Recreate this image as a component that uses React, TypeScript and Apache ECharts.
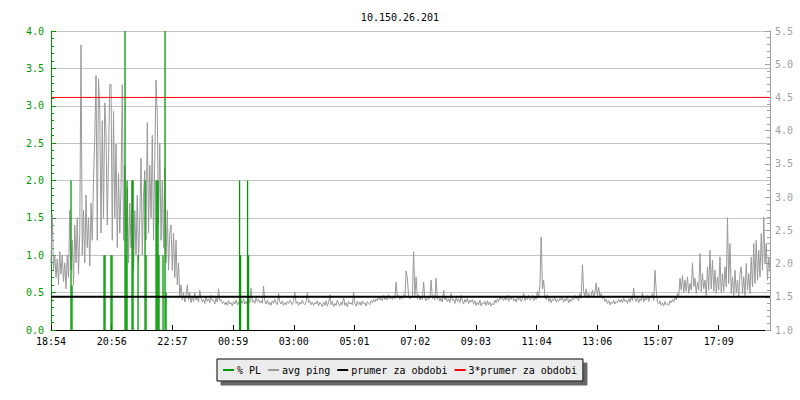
import React, { useEffect, useRef } from "react";
import * as echarts from "echarts";

const title = "10.150.26.201";
const xTickLabels = ["18:54", "20:56", "22:57", "00:59", "03:00", "05:01", "07:02", "09:03", "11:04", "13:06", "15:07", "17:09"];
const spanMinutes = 1437.5;
const tickStep = 121.36;
const pingStep = 2.5; // minutes between ping samples

// avg ping (right axis), one value every 2.5 minutes, 24 per hour from 18:54
const pingValues = [
  2.01, 2.74, 1.9, 2.13, 1.79, 2.07, 1.68, 2.18, 1.84, 2.13, 1.73, 2.01, 1.62, 2.13, 1.79, 2.8, 1.9, 2.35, 1.68, 2.58, 2.01, 2.69, 1.84, 2.46,
  5.29, 2.13, 2.8, 2.01, 3.03, 2.24, 2.69, 1.96, 2.91, 2.35, 3.25, 3.89, 4.83, 2.35, 4.78, 4.3, 2.46, 4.15, 2.69, 4.42, 3.99, 2.58, 3.59, 4.69,
  4.7, 2.35, 4.29, 2.69, 3.8, 2.24, 3.36, 2.46, 3.14, 4.69, 2.35, 3.48, 2.13, 3.14, 2.01, 2.91, 2.24, 3.25, 1.9, 2.8, 2.13, 3.03, 2.01, 2.69,
  3.59, 2.13, 3.03, 3.4, 2.35, 4.12, 2.46, 3.48, 2.69, 3.93, 2.35, 3.59, 4.76, 4.24, 2.58, 3.81, 2.35, 3.25, 2.24, 3.44, 2.01, 2.8, 1.9, 2.46,
  2.58, 1.9, 2.46, 1.79, 2.35, 1.68, 2.01, 1.51, 1.68, 1.45, 1.56, 1.42, 1.51, 1.68, 1.45, 1.56, 1.41, 1.51, 1.43, 1.56, 1.45, 1.5, 1.42, 1.6,
  1.48, 1.42, 1.46, 1.4, 1.5, 1.43, 1.47, 1.41, 1.52, 1.44, 1.45, 1.39, 1.48, 1.42, 1.62, 1.44, 1.46, 1.4, 1.43, 1.38, 1.42, 1.37, 1.44, 1.39,
  1.41, 1.36, 1.43, 1.39, 1.45, 1.38, 1.42, 1.37, 1.44, 1.4, 1.47, 1.39, 1.43, 1.38, 1.46, 1.41, 1.63, 1.42, 1.45, 1.4, 1.48, 1.43, 1.46, 1.41,
  1.44, 1.4, 1.66, 1.43, 1.39, 1.45, 1.38, 1.42, 1.37, 1.44, 1.4, 1.46, 1.41, 1.38, 1.55, 1.42, 1.39, 1.44, 1.37, 1.41, 1.38, 1.43, 1.4, 1.45,
  1.41, 1.38, 1.44, 1.57, 1.4, 1.43, 1.37, 1.42, 1.39, 1.45, 1.4, 1.38, 1.43, 1.56, 1.41, 1.44, 1.38, 1.42, 1.37, 1.41, 1.39, 1.44, 1.36, 1.42,
  1.39, 1.35, 1.42, 1.37, 1.44, 1.36, 1.41, 1.53, 1.38, 1.43, 1.35, 1.4, 1.37, 1.45, 1.39, 1.36, 1.42, 1.38, 1.5, 1.37, 1.41, 1.35, 1.43, 1.39,
  1.41, 1.38, 1.57, 1.4, 1.36, 1.43, 1.38, 1.42, 1.37, 1.44, 1.39, 1.41, 1.36, 1.43, 1.4, 1.38, 1.44, 1.41, 1.46, 1.42, 1.47, 1.44, 1.5, 1.45,
  1.48, 1.44, 1.52, 1.46, 1.5, 1.45, 1.53, 1.47, 1.49, 1.46, 1.51, 1.47, 1.72, 1.48, 1.52, 1.46, 1.5, 1.47, 1.53, 1.49, 1.89, 1.78, 1.5, 1.47,
  1.48, 1.5, 2.18, 1.52, 1.8, 1.47, 1.53, 1.45, 1.5, 1.46, 1.72, 1.48, 1.44, 1.51, 1.46, 1.49, 1.75, 1.47, 1.52, 1.45, 1.78, 1.46, 1.5, 1.43,
  1.48, 1.42, 1.6, 1.45, 1.5, 1.43, 1.47, 1.41, 1.55, 1.44, 1.46, 1.4, 1.49, 1.43, 1.47, 1.41, 1.52, 1.44, 1.39, 1.46, 1.42, 1.48, 1.4, 1.45,
  1.42, 1.46, 1.39, 1.44, 1.37, 1.42, 1.38, 1.45, 1.36, 1.41, 1.39, 1.43, 1.37, 1.44, 1.38, 1.42, 1.36, 1.4, 1.38, 1.45, 1.41, 1.47, 1.43, 1.49,
  1.46, 1.5, 1.44, 1.49, 1.45, 1.52, 1.43, 1.48, 1.46, 1.51, 1.44, 1.47, 1.42, 1.49, 1.45, 1.5, 1.43, 1.47, 1.55, 1.44, 1.49, 1.46, 1.52, 1.45,
  1.47, 1.52, 1.44, 1.5, 1.46, 1.58, 1.48, 1.68, 2.4, 1.62, 1.75, 1.5, 1.46, 1.53, 1.43, 1.48, 1.41, 1.47, 1.44, 1.5, 1.42, 1.46, 1.43, 1.48,
  1.45, 1.49, 1.42, 1.47, 1.44, 1.5, 1.41, 1.46, 1.43, 1.48, 1.45, 1.52, 1.47, 1.5, 1.44, 1.55, 1.48, 1.98, 1.58, 1.5, 1.62, 1.48, 1.55, 1.5,
  1.52, 1.6, 1.5, 1.56, 1.71, 1.52, 1.64, 1.49, 1.55, 1.47, 1.5, 1.43, 1.46, 1.4, 1.44, 1.38, 1.42, 1.4, 1.45, 1.39, 1.43, 1.41, 1.46, 1.42,
  1.46, 1.41, 1.48, 1.43, 1.45, 1.4, 1.47, 1.42, 1.5, 1.44, 1.63, 1.46, 1.43, 1.49, 1.41, 1.47, 1.44, 1.56, 1.42, 1.48, 1.45, 1.52, 1.43, 1.5,
  1.48, 1.55, 1.44, 1.9, 1.6, 1.42, 1.39, 1.44, 1.37, 1.41, 1.36, 1.43, 1.38, 1.4, 1.37, 1.44, 1.41, 1.46, 1.42, 1.5, 1.45, 1.55, 1.5, 1.78,
  1.6, 1.82, 1.56, 1.75, 1.58, 1.8, 1.55, 1.7, 1.6, 2.01, 1.65, 1.78, 1.55, 1.72, 1.6, 2.15, 1.58, 1.85, 1.62, 1.75, 1.52, 1.95, 1.6, 2.2,
  1.62, 2.05, 1.58, 1.9, 1.55, 1.8, 1.6, 2.1, 1.56, 1.85, 1.58, 1.95, 1.65, 2.69, 1.7, 2.3, 1.55, 1.8, 1.52, 1.9, 1.56, 1.75, 1.5, 1.85,
  1.95, 1.55, 1.8, 1.52, 2.0, 1.6, 1.85, 1.55, 2.1, 1.65, 2.3, 1.7, 2.35, 1.75, 2.2, 1.8, 2.45, 1.9, 2.7, 2.0, 2.3, 1.75, 2.1, 1.9,
];

// % packet loss events (left axis): minutes after 18:54 and value
const plTimes = [40, 42, 106, 108, 120, 122, 148, 150, 152, 162, 164, 174, 188, 190, 210, 212, 214, 216, 224, 228, 230, 377, 379, 393, 395];
const plValues = [2.0, 0.6, 1.0, 1.0, 1.0, 1.0, 4.0, 1.0, 2.0, 2.0, 2.0, 1.0, 2.0, 1.0, 2.0, 2.0, 2.0, 1.0, 1.0, 4.0, 0.5, 2.0, 1.0, 2.0, 1.0];

const avgPing = 1.5; // prumer za obdobi
const tripleAvgPing = 4.5; // 3*prumer za obdobi

const FONT = "DejaVu Sans Mono";

export default function App() {
  const ref = useRef<HTMLDivElement>(null);
  useEffect(() => {
    if (!ref.current) return;
    const chart = echarts.init(ref.current, undefined, { renderer: "svg" });
    const pingData = pingValues.map((v, i) => [i * pingStep, v]);
    const plData = plTimes.map((t, i) => [t, plValues[i]]);
    chart.setOption({
      animation: false,
      backgroundColor: "#ffffff",
      title: {
        text: title,
        left: "center",
        top: 7,
        textStyle: { fontSize: 10, fontWeight: "normal", fontFamily: FONT, color: "#000" },
      },
      legend: {
        left: 217,
        top: 359,
        padding: [6, 6],
        itemGap: 7,
        itemWidth: 11,
        itemHeight: 2,
        backgroundColor: "#ececec",
        borderColor: "#000",
        borderWidth: 1,
        shadowColor: "#666",
        shadowBlur: 0,
        shadowOffsetX: 4,
        shadowOffsetY: 4,
        textStyle: { fontSize: 10, fontFamily: FONT, color: "#000", padding: [0, 0, 0, -2] },
        data: [
          { name: "% PL", icon: "rect" },
          { name: "avg ping", icon: "rect" },
          { name: "prumer za obdobi", icon: "rect" },
          { name: "3*prumer za obdobi", icon: "rect" },
        ],
      },
      grid: { left: 51, right: 30, top: 31, bottom: 70 },
      xAxis: {
        type: "value",
        min: 0,
        max: spanMinutes,
        interval: tickStep,
        axisLine: { onZero: false, lineStyle: { color: "#000", width: 1 } },
        axisTick: { inside: true, length: 5, lineStyle: { color: "#000" } },
        splitLine: { show: false },
        axisLabel: {
          color: "#000",
          fontFamily: FONT,
          fontSize: 10,
          margin: 6,
          showMaxLabel: false,
          formatter: (v: number) => {
            const i = Math.round(v / tickStep);
            if (Math.abs(v - i * tickStep) > 1 || i >= xTickLabels.length) return "";
            return xTickLabels[i];
          },
        },
      },
      yAxis: [
        {
          type: "value",
          min: 0,
          max: 4,
          interval: 0.5,
          position: "left",
          axisLine: { show: true, lineStyle: { color: "#009900", width: 1 } },
          axisTick: { show: true, inside: true, length: 5, lineStyle: { color: "#009900" } },
          minorTick: { show: true, splitNumber: 5, length: 3, lineStyle: { color: "#009900" } },
          splitLine: { show: true, lineStyle: { color: "#c4c4c4", width: 1 } },
          axisLabel: { color: "#009900", fontFamily: FONT, fontSize: 10, margin: 7, formatter: (v: number) => v.toFixed(1) },
        },
        {
          type: "value",
          min: 1,
          max: 5.5,
          interval: 0.5,
          position: "right",
          axisLine: { show: true, lineStyle: { color: "#a0a0a0", width: 1 } },
          axisTick: { show: true, inside: true, length: 5, lineStyle: { color: "#a0a0a0" } },
          minorTick: { show: true, splitNumber: 5, length: 3, lineStyle: { color: "#a0a0a0" } },
          splitLine: { show: false },
          axisLabel: { color: "#a0a0a0", fontFamily: FONT, fontSize: 10, margin: 5, formatter: (v: number) => v.toFixed(1) },
        },
      ],
      series: [
        {
          name: "avg ping",
          type: "line",
          yAxisIndex: 1,
          data: pingData,
          symbol: "none",
          lineStyle: { color: "#999999", width: 1 },
          itemStyle: { color: "#999999" },
          z: 2,
        },
        {
          name: "% PL",
          type: "bar",
          yAxisIndex: 0,
          data: plData,
          barWidth: 1.3,
          itemStyle: { color: "#009900" },
          z: 3,
        },
        {
          name: "prumer za obdobi",
          type: "line",
          yAxisIndex: 1,
          data: [[0, avgPing], [spanMinutes, avgPing]],
          symbol: "none",
          lineStyle: { color: "#000000", width: 2 },
          itemStyle: { color: "#000000" },
          z: 4,
        },
        {
          name: "3*prumer za obdobi",
          type: "line",
          yAxisIndex: 1,
          data: [[0, tripleAvgPing], [spanMinutes, tripleAvgPing]],
          symbol: "none",
          lineStyle: { color: "#ff0000", width: 1 },
          itemStyle: { color: "#ff0000" },
          z: 5,
        },
      ],
    });
    return () => chart.dispose();
  }, []);
  return <div ref={ref} style={{ position: "fixed", left: 0, top: 0, width: 800, height: 400 }} />;
}
